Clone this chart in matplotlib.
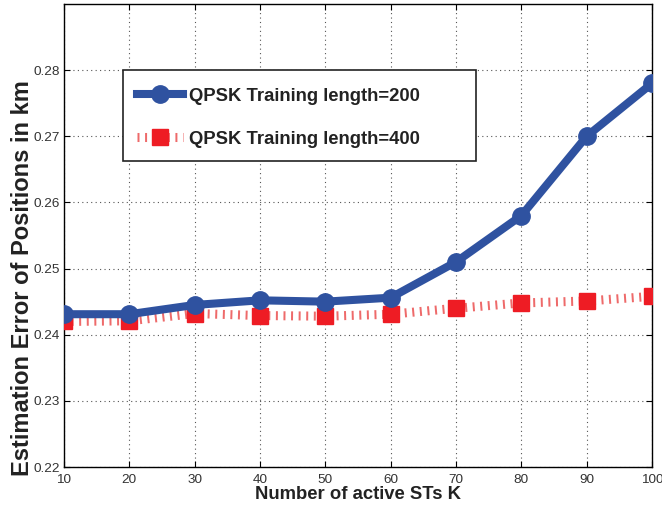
import matplotlib
matplotlib.use("Agg")
import matplotlib.pyplot as plt
from matplotlib.patches import Rectangle

K = [10, 20, 30, 40, 50, 60, 70, 80, 90, 100]
err_200 = [0.2431, 0.2431, 0.2445, 0.2452, 0.2450, 0.2456, 0.2510, 0.2580, 0.2700, 0.2780]
err_400 = [0.2420, 0.2421, 0.2432, 0.2429, 0.2428, 0.2431, 0.2440, 0.2448, 0.2451, 0.2458]
yticks = [0.22, 0.23, 0.24, 0.25, 0.26, 0.27, 0.28]
labels = ["QPSK Training length=200", "QPSK Training length=400"]

plt.rcParams['font.family'] = ['Liberation Sans', 'DejaVu Sans']

W, H = 662, 511
fig = plt.figure(figsize=(W / 100, H / 100), dpi=100)
L, R, T, B = 64, 652, 4, 467
ax = fig.add_axes([L / W, 1 - B / H, (R - L) / W, (B - T) / H])

ax.plot(K, err_400, linestyle=(0, (0.22, 0.62)), color='#ee6a6a', lw=6.5,
        dash_capstyle='butt', marker='s', markersize=11.5, markerfacecolor='#ee1c24',
        markeredgecolor='#ee1c24', label=labels[1], zorder=3)
ax.plot(K, err_200, '-', color='#2f52a0', lw=5.8, marker='o', markersize=12.5,
        markerfacecolor='#2f52a0', markeredgecolor='#2f52a0', label=labels[0], zorder=4)

ax.set_xlim(10, 100)
ax.set_ylim(0.22, 0.29)
ax.set_xticks(K)
ax.set_yticks(yticks)
ax.set_xticklabels([str(k) for k in K])
ax.set_yticklabels([f"{v:.2f}" for v in yticks])
ax.tick_params(direction='in', top=True, right=True, labelsize=9.7, length=4,
               labelcolor='#333333')
ax.tick_params(axis='y', pad=3)
ax.tick_params(axis='x', pad=5)
ax.grid(True, linestyle=(0, (1, 3)), color='#555555', lw=0.8)
for s in ax.spines.values():
    s.set_linewidth(1.0)

ax.set_xlabel("Number of active STs K", fontsize=13.3, fontweight='bold', labelpad=0,
              color='#222222')
ax.set_ylabel("Estimation Error of Positions in km", fontsize=17, fontweight='bold',
              color='#222222')
ax.yaxis.set_label_coords(-0.051, 0.408)

# legend box (pixel layout of the reference)
bx0, bx1, by0, by1 = 123, 476, 70, 161
ax.add_patch(Rectangle(((bx0 - L) / (R - L), (B - by1) / (B - T)),
                       (bx1 - bx0) / (R - L), (by1 - by0) / (B - T),
                       transform=ax.transAxes, facecolor='white', edgecolor='#222222',
                       lw=1.2, zorder=5))

h, l = ax.get_legend_handles_labels()
leg = ax.legend([h[1], h[0]], [l[1], l[0]], loc='upper left',
                bbox_to_anchor=((bx0 - L) / (R - L), (B - by0 - 4) / (B - T)),
                frameon=False, handlelength=2.5,
                prop={'weight': 'bold', 'size': 13.3}, borderpad=0.75, labelspacing=1.4,
                handletextpad=0.3, borderaxespad=0)
leg.set_zorder(6)
for t in leg.get_texts():
    t.set_color('#222222')

fig.savefig("out.png", dpi=100)
